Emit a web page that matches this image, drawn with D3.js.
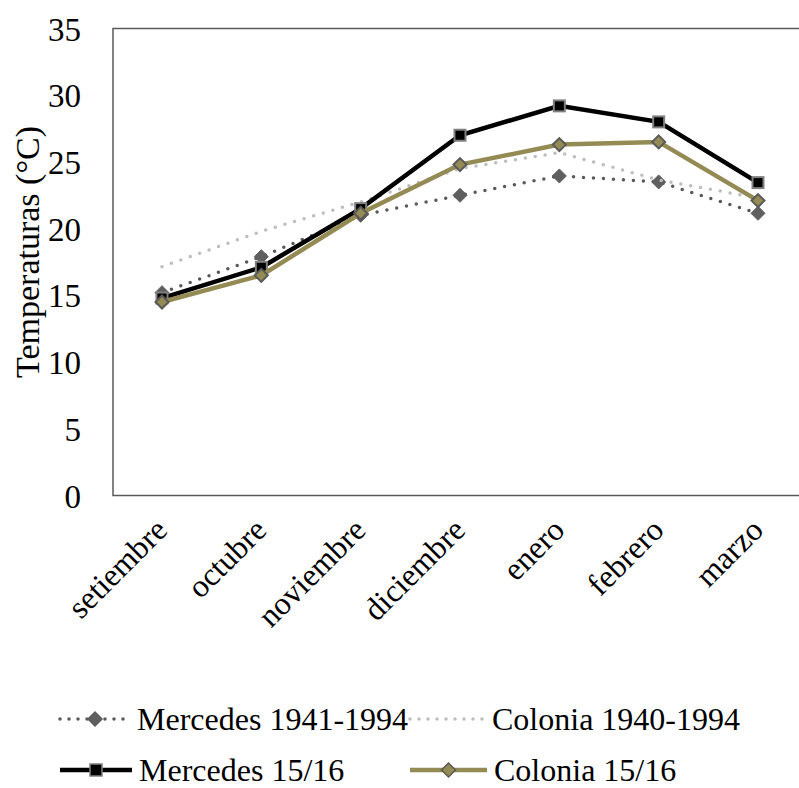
<!DOCTYPE html>
<html><head><meta charset="utf-8">
<script src="https://cdn.jsdelivr.net/npm/d3@7"></script>
<style>
html,body{margin:0;padding:0;background:#fff;}
svg{display:block;font-family:"Liberation Serif","Times New Roman",serif;}
</style></head>
<body><svg id="c" width="799" height="788"></svg>
<script>
const months = ["setiembre","octubre","noviembre","diciembre","enero","febrero","marzo"];
const yTicks = [0,5,10,15,20,25,30,35];
const mercedesHist = [15.2,17.9,21.0,22.5,23.95,23.5,21.15];
const coloniaHist = [17.15,19.8,22.0,24.5,25.7,23.65,22.3];
const mercedes1516 = [14.8,17.1,21.5,27.0,29.2,28.0,23.45];
const colonia1516 = [14.5,16.5,21.15,24.8,26.3,26.5,22.1];
const seriesNames = ["Mercedes 1941-1994","Colonia 1940-1994","Mercedes 15/16","Colonia 15/16"];

const svg = d3.select("#c");
const x = d3.scalePoint().domain(months).range([162,758]);
const y = d3.scaleLinear().domain([0,35]).range([495.5,28.5]);

// frame
svg.append("rect").attr("x",113).attr("y",y(35)).attr("width",760).attr("height",y(0)-y(35))
  .attr("fill","none").attr("stroke","#595959").attr("stroke-width",1.5);

// y axis labels
const yAxis = d3.axisLeft(y).tickValues(yTicks).tickSize(0).tickPadding(0);
const gy = svg.append("g").attr("transform","translate(81,0)").call(yAxis);
gy.attr("font-family","Liberation Serif");
gy.select(".domain").remove();
gy.selectAll("text").attr("font-size",33).attr("font-family","Liberation Serif").attr("fill","#000").attr("dy","0.35em");

// y title
svg.append("text").attr("transform","translate(39,252) rotate(-90)").attr("text-anchor","middle")
  .attr("font-size",34).attr("fill","#000").text("Temperaturas (°C)");

// x labels
svg.append("g").selectAll("text").data(months).join("text")
  .attr("transform",d=>`translate(${x(d)+7},532) rotate(-45)`)
  .attr("text-anchor","end").attr("font-size",32).attr("fill","#000").text(d=>d);

const line = d3.line().x((d,i)=>x(months[i])).y(d=>y(d));
function diamondPath(s){ return `M0,${-s}L${s},0L0,${s}L${-s},0Z`; }

// series 1: Mercedes hist
const g = svg.append("g");
g.append("path").datum(mercedesHist).attr("d",line).attr("fill","none").attr("stroke","#595959")
  .attr("stroke-width",3.5).attr("stroke-linecap","round").attr("stroke-dasharray","0 10");
g.selectAll(".m1").data(mercedesHist).join("path").attr("class","m1")
  .attr("transform",(d,i)=>`translate(${x(months[i])},${y(d)})`).attr("d",diamondPath(7))
  .attr("fill","#5f5f5f").attr("stroke","#5f5f5f").attr("stroke-width",1);
// series 2: Colonia hist
g.append("path").datum(coloniaHist).attr("d",line).attr("fill","none").attr("stroke","#bdbdbd")
  .attr("stroke-width",3.5).attr("stroke-linecap","round").attr("stroke-dasharray","0 10");
// series 3: Mercedes 15/16
g.append("path").datum(mercedes1516).attr("d",line).attr("fill","none").attr("stroke","#000").attr("stroke-width",4.5);
g.selectAll(".m3").data(mercedes1516).join("rect").attr("class","m3")
  .attr("x",(d,i)=>x(months[i])-5.5).attr("y",d=>y(d)-5.5).attr("width",11).attr("height",11)
  .attr("fill","#000").attr("stroke","#808080").attr("stroke-width",2);
// series 4: Colonia 15/16
g.append("path").datum(colonia1516).attr("d",line).attr("fill","none").attr("stroke","#948a54").attr("stroke-width",4.5);
g.selectAll(".m4").data(colonia1516).join("path").attr("class","m4")
  .attr("transform",(d,i)=>`translate(${x(months[i])},${y(d)})`).attr("d",diamondPath(6.5))
  .attr("fill","#948a54").attr("stroke","#595959").attr("stroke-width",2);

// legend
const leg = svg.append("g");
const items = [
  {name:seriesNames[0], x:60, y:719, len:70, stroke:"#595959", dash:"0 9", w:3.5, marker:"dia", mfill:"#5f5f5f", mstroke:"#5f5f5f"},
  {name:seriesNames[1], x:410, y:719, len:75, stroke:"#bdbdbd", dash:"0 9", w:3.5, marker:null},
  {name:seriesNames[2], x:60, y:770, len:72, stroke:"#000", dash:null, w:4.5, marker:"sq"},
  {name:seriesNames[3], x:410, y:770, len:77, stroke:"#948a54", dash:null, w:4.5, marker:"dia", mfill:"#948a54", mstroke:"#595959"}
];
items.forEach(it=>{
  const l = leg.append("line").attr("x1",it.x).attr("x2",it.x+it.len).attr("y1",it.y).attr("y2",it.y)
    .attr("stroke",it.stroke).attr("stroke-width",it.w);
  if(it.dash) l.attr("stroke-dasharray",it.dash).attr("stroke-linecap","round");
  const cx = it.x+it.len/2;
  if(it.marker==="dia") leg.append("path").attr("transform",`translate(${cx},${it.y})`).attr("d",diamondPath(7))
    .attr("fill",it.mfill).attr("stroke",it.mstroke).attr("stroke-width",1.5);
  if(it.marker==="sq") leg.append("rect").attr("x",cx-6).attr("y",it.y-6).attr("width",12).attr("height",12)
    .attr("fill","#000").attr("stroke","#808080").attr("stroke-width",1.5);
  leg.append("text").attr("x",it.x+it.len+7).attr("y",it.y).attr("dy","0.35em").attr("font-size",32).attr("fill","#000").text(it.name);
});
</script></body></html>
